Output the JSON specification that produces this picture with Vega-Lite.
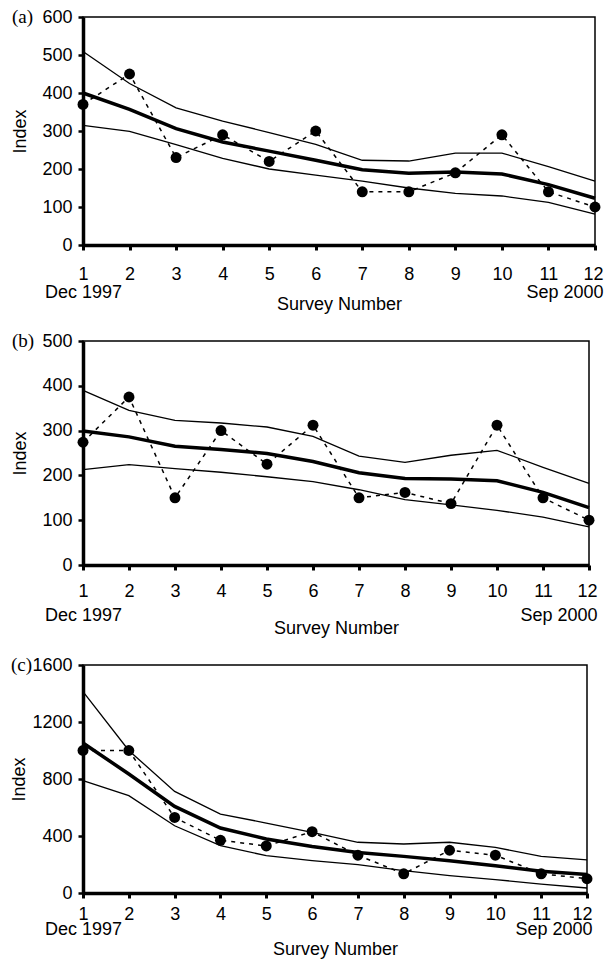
{
  "$schema": "https://vega.github.io/schema/vega-lite/v6.json",
  "padding": {"left": 10, "top": 7, "right": 0, "bottom": 0},
  "background": "white",
  "config": {
    "font": "Liberation Sans",
    "view": {"stroke": "black", "strokeWidth": 1.5},
    "axis": {
      "labelFont": "Liberation Sans", "labelFontSize": 18, "labelColor": "black",
      "titleFont": "Liberation Sans", "titleFontSize": 18, "titleFontWeight": "normal", "titleColor": "black",
      "domainColor": "black", "tickColor": "black", "grid": false
    },
    "title": {"font": "Liberation Serif", "fontSize": 19, "fontWeight": "normal", "color": "black", "anchor": "start", "frame": "bounds", "baseline": "middle", "offset": -19}
  },
  "datasets": {
    "a": [
      {"survey": 1, "obs": 370, "trend": 400, "upper": 509, "lower": 315},
      {"survey": 2, "obs": 450, "trend": 357, "upper": 425, "lower": 299},
      {"survey": 3, "obs": 230, "trend": 306, "upper": 361, "lower": 264},
      {"survey": 4, "obs": 290, "trend": 271, "upper": 326, "lower": 228},
      {"survey": 5, "obs": 220, "trend": 247, "upper": 296, "lower": 200},
      {"survey": 6, "obs": 300, "trend": 223, "upper": 265, "lower": 184},
      {"survey": 7, "obs": 140, "trend": 198, "upper": 223, "lower": 168},
      {"survey": 8, "obs": 140, "trend": 189, "upper": 221, "lower": 150},
      {"survey": 9, "obs": 190, "trend": 192, "upper": 242, "lower": 136},
      {"survey": 10, "obs": 290, "trend": 187, "upper": 242, "lower": 129},
      {"survey": 11, "obs": 140, "trend": 159, "upper": 206, "lower": 112},
      {"survey": 12, "obs": 100, "trend": 123, "upper": 168, "lower": 81}
    ],
    "b": [
      {"survey": 1, "obs": 274, "trend": 299, "upper": 390, "lower": 213},
      {"survey": 2, "obs": 375, "trend": 286, "upper": 345, "lower": 224},
      {"survey": 3, "obs": 150, "trend": 265, "upper": 323, "lower": 215},
      {"survey": 4, "obs": 300, "trend": 258, "upper": 317, "lower": 207},
      {"survey": 5, "obs": 225, "trend": 249, "upper": 308, "lower": 197},
      {"survey": 6, "obs": 312, "trend": 231, "upper": 287, "lower": 186},
      {"survey": 7, "obs": 150, "trend": 206, "upper": 243, "lower": 168},
      {"survey": 8, "obs": 162, "trend": 193, "upper": 229, "lower": 146},
      {"survey": 9, "obs": 137, "trend": 192, "upper": 245, "lower": 134},
      {"survey": 10, "obs": 312, "trend": 188, "upper": 256, "lower": 122},
      {"survey": 11, "obs": 150, "trend": 162, "upper": 218, "lower": 107},
      {"survey": 12, "obs": 100, "trend": 128, "upper": 182, "lower": 85}
    ],
    "c": [
      {"survey": 1, "obs": 1000, "trend": 1053, "upper": 1413, "lower": 788},
      {"survey": 2, "obs": 1000, "trend": 835, "upper": 1000, "lower": 683},
      {"survey": 3, "obs": 530, "trend": 608, "upper": 713, "lower": 472},
      {"survey": 4, "obs": 370, "trend": 456, "upper": 554, "lower": 332},
      {"survey": 5, "obs": 330, "trend": 379, "upper": 491, "lower": 262},
      {"survey": 6, "obs": 430, "trend": 327, "upper": 426, "lower": 227},
      {"survey": 7, "obs": 265, "trend": 285, "upper": 356, "lower": 199},
      {"survey": 8, "obs": 135, "trend": 257, "upper": 344, "lower": 157},
      {"survey": 9, "obs": 300, "trend": 227, "upper": 356, "lower": 122},
      {"survey": 10, "obs": 265, "trend": 192, "upper": 320, "lower": 94},
      {"survey": 11, "obs": 135, "trend": 152, "upper": 257, "lower": 63},
      {"survey": 12, "obs": 100, "trend": 129, "upper": 232, "lower": 35}
    ]
  },
  "columns": 1,
  "spacing": 17,
  "concat": [
    {
      "width": 512, "height": 228,
      "title": {"text": "(a)"},
      "data": {"name": "a"},
      "encoding": {
        "x": {"field": "survey", "type": "quantitative", "scale": {"domain": [1, 12], "nice": false, "zero": false},
          "axis": {"values": [1,2,3,4,5,6,7,8,9,10,11,12], "labelFlush": false, "labelOverlap": false,
            "labelExpr": "datum.value == 1 ? ['1', 'Dec 1997'] : datum.value == 12 ? ['12', 'Sep 2000'] : datum.label",
            "labelAlign": {"condition": {"test": "datum.value == 12", "value": "right"}, "value": "center"},
            "labelOffset": {"condition": {"test": "datum.value == 12", "value": 8}, "value": 0},
            "labelLineHeight": 18, "labelPadding": 15, "tickSize": 5, "tickWidth": 3, "domainWidth": 3.5,
            "title": "Survey Number", "titlePadding": -6}},
        "y": {"type": "quantitative", "scale": {"domain": [0, 600], "nice": false},
          "axis": {"values": [0,100,200,300,400,500,600], "format": "d", "title": "Index", "titlePadding": 12, "labelPadding": 6, "tickSize": 5, "tickWidth": 2.5, "domainWidth": 3.5}}
      },
      "layer": [
        {"mark": {"type": "line", "color": "black", "strokeWidth": 1.3}, "encoding": {"y": {"field": "upper"}}},
        {"mark": {"type": "line", "color": "black", "strokeWidth": 1.3}, "encoding": {"y": {"field": "lower"}}},
        {"mark": {"type": "line", "color": "black", "strokeWidth": 3.5}, "encoding": {"y": {"field": "trend"}}},
        {"mark": {"type": "line", "color": "black", "strokeWidth": 1.5, "strokeDash": [4, 5]}, "encoding": {"y": {"field": "obs"}}},
        {"mark": {"type": "circle", "color": "black", "opacity": 1, "size": 120}, "encoding": {"y": {"field": "obs"}}}
      ]
    },
    {
      "width": 506, "height": 224,
      "title": {"text": "(b)"},
      "data": {"name": "b"},
      "encoding": {
        "x": {"field": "survey", "type": "quantitative", "scale": {"domain": [1, 12], "nice": false, "zero": false},
          "axis": {"values": [1,2,3,4,5,6,7,8,9,10,11,12], "labelFlush": false, "labelOverlap": false,
            "labelExpr": "datum.value == 1 ? ['1', 'Dec 1997'] : datum.value == 12 ? ['12', 'Sep 2000'] : datum.label",
            "labelAlign": {"condition": {"test": "datum.value == 12", "value": "right"}, "value": "center"},
            "labelOffset": {"condition": {"test": "datum.value == 12", "value": 8}, "value": 0},
            "labelLineHeight": 24, "labelPadding": 12, "tickSize": 5, "tickWidth": 3, "domainWidth": 3.5,
            "title": "Survey Number", "titlePadding": -5}},
        "y": {"type": "quantitative", "scale": {"domain": [0, 500], "nice": false},
          "axis": {"values": [0,100,200,300,400,500], "format": "d", "title": "Index", "titlePadding": 12, "labelPadding": 6, "tickSize": 5, "tickWidth": 2.5, "domainWidth": 3.5}}
      },
      "layer": [
        {"mark": {"type": "line", "color": "black", "strokeWidth": 1.3}, "encoding": {"y": {"field": "upper"}}},
        {"mark": {"type": "line", "color": "black", "strokeWidth": 1.3}, "encoding": {"y": {"field": "lower"}}},
        {"mark": {"type": "line", "color": "black", "strokeWidth": 3.5}, "encoding": {"y": {"field": "trend"}}},
        {"mark": {"type": "line", "color": "black", "strokeWidth": 1.5, "strokeDash": [4, 5]}, "encoding": {"y": {"field": "obs"}}},
        {"mark": {"type": "circle", "color": "black", "opacity": 1, "size": 120}, "encoding": {"y": {"field": "obs"}}}
      ]
    },
    {
      "width": 504, "height": 228,
      "title": {"text": "(c)"},
      "data": {"name": "c"},
      "encoding": {
        "x": {"field": "survey", "type": "quantitative", "scale": {"domain": [1, 12], "nice": false, "zero": false},
          "axis": {"values": [1,2,3,4,5,6,7,8,9,10,11,12], "labelFlush": false, "labelOverlap": false,
            "labelExpr": "datum.value == 1 ? ['1', 'Dec 1997'] : datum.value == 12 ? ['12', 'Sep 2000'] : datum.label",
            "labelAlign": {"condition": {"test": "datum.value == 12", "value": "right"}, "value": "center"},
            "labelOffset": {"condition": {"test": "datum.value == 12", "value": 5}, "value": 0},
            "labelLineHeight": 15, "labelPadding": 7, "tickSize": 5, "tickWidth": 3, "domainWidth": 3.5,
            "title": "Survey Number", "titlePadding": 2}},
        "y": {"type": "quantitative", "scale": {"domain": [0, 1600], "nice": false},
          "axis": {"values": [0,400,800,1200,1600], "format": "d", "title": "Index", "titlePadding": 3, "labelPadding": 6, "tickSize": 5, "tickWidth": 2.5, "domainWidth": 3.5}}
      },
      "layer": [
        {"mark": {"type": "line", "color": "black", "strokeWidth": 1.3}, "encoding": {"y": {"field": "upper"}}},
        {"mark": {"type": "line", "color": "black", "strokeWidth": 1.3}, "encoding": {"y": {"field": "lower"}}},
        {"mark": {"type": "line", "color": "black", "strokeWidth": 3.5}, "encoding": {"y": {"field": "trend"}}},
        {"mark": {"type": "line", "color": "black", "strokeWidth": 1.5, "strokeDash": [4, 5]}, "encoding": {"y": {"field": "obs"}}},
        {"mark": {"type": "circle", "color": "black", "opacity": 1, "size": 120}, "encoding": {"y": {"field": "obs"}}}
      ]
    }
  ]
}
